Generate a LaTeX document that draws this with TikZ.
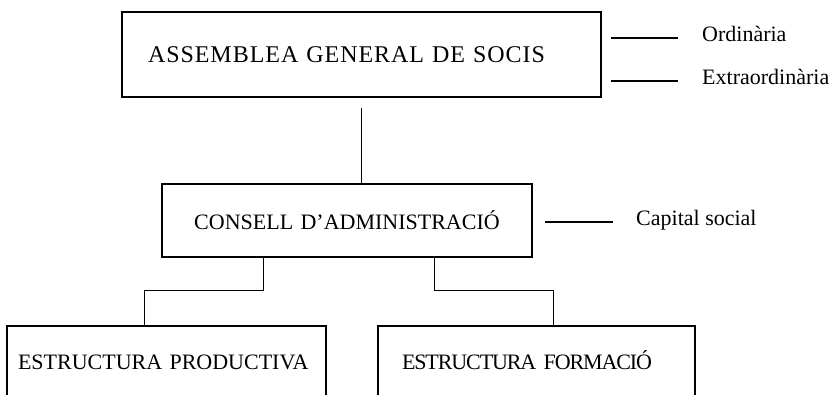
\documentclass[tikz,border=0pt]{standalone}
\usepackage{fontspec}
\setmainfont{Liberation Serif}
\usepackage{tikz}
\tikzset{
orgbox/.style={
  draw,
  rectangle,
  line width=2pt,
  inner ysep=0pt,
  font=\fontsize{22}{26}\selectfont
},
link/.style={line width=1pt},
sideline/.style={line width=1.3pt},
sidelabel/.style={
  anchor=west,
  inner sep=0pt,
  text height=0.66em,
  text depth=0pt,
  font=\fontsize{22}{26}\selectfont
},
}

\begin{document}
\begin{tikzpicture}[x=1pt,y=-1pt]
\clip (0,0) rectangle (836,395);
% the boxes
\node[orgbox, text width=427pt, inner xsep=26pt, align=left, minimum height=85pt, font=\fontsize{24}{28}\selectfont] (assemblea) at (361.5,54.5) {\addfontfeature{LetterSpace=4}ASSEMBLEA GENERAL DE SOCIS};
\node[orgbox, text width=350pt, inner xsep=10pt, align=center, minimum height=73pt] (consell) at (347,220.5) {CONSELL D'ADMINISTRACIÓ};
\node[orgbox, anchor=north, text width=297pt, inner xsep=11pt, align=left, text height=44pt, text depth=80pt] (productiva) at (166.5,325) {ESTRUCTURA PRODUCTIVA};
\node[orgbox, anchor=north, text width=269pt, inner xsep=24pt, align=left, text height=44pt, text depth=80pt] (formacio) at (536.5,325) {\addfontfeature{LetterSpace=-5}ESTRUCTURA FORMACIÓ};
% the labels on the right
\node[sidelabel] (ordinaria) at (702,38) {Ordinària};
\node[sidelabel] (extraordinaria) at (702,81) {Extraordinària};
\node[sidelabel] (capital) at (636,222) {Capital social};
% the links
\draw[link] ([yshift=-10pt]assemblea.south) -- (assemblea.south |- consell.north);
\draw[link] ([xshift=-84pt]consell.south) -- ++(0,-33pt) -| ([xshift=-22.5pt]productiva.north);
\draw[link] ([xshift=87pt]consell.south) -- ++(0,-33pt) -| ([xshift=16.5pt]formacio.north);
\draw[sideline] ([xshift=9pt]assemblea.east |- ordinaria.west) -- ([xshift=-24pt]ordinaria.west);
\draw[sideline] ([xshift=9pt]assemblea.east |- extraordinaria.west) -- ([xshift=-24pt]extraordinaria.west);
\draw[sideline] ([xshift=12pt]consell.east |- capital.west) -- ([xshift=-23pt]capital.west);
\end{tikzpicture}
\end{document}
